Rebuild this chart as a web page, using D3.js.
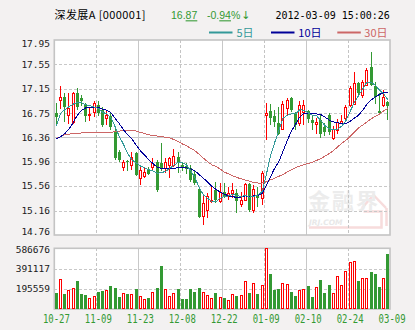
<!DOCTYPE html>
<html><head><meta charset="utf-8">
<script src="https://cdn.jsdelivr.net/npm/d3@7"></script>
<style>
html,body{margin:0;padding:0;background:#f3f1f1;}
svg{display:block;}
</style></head><body>
<svg id="c" width="415" height="330"></svg>
<script>
// ---- data ----
const tickLabels = ['10-27','11-09','11-23','12-08','12-22','01-09','02-10','02-24','03-09'];
const priceTicks = [17.95,17.55,17.15,16.75,16.36,15.96,15.56,15.16,14.76];
const volTicks = [586676,391117,195559];

const opens = [16.76,16.97,17.01,16.72,16.61,17.09,17.00,16.89,16.72,16.78,
16.88,16.81,16.67,16.70,16.45,16.11,15.88,15.97,15.91,16.10,
15.70,15.72,15.82,15.88,15.96,15.93,15.85,15.90,15.90,16.04,
15.90,15.89,15.85,15.76,15.52,15.07,15.17,15.31,15.49,15.31,
15.47,15.39,15.44,15.44,15.27,15.33,15.60,15.17,15.39,15.36,
16.72,16.79,16.71,16.59,16.50,16.83,17.00,16.74,16.59,16.78,
16.79,16.64,16.57,16.64,16.53,16.72,16.35,16.48,16.59,16.67,
16.89,16.91,17.24,17.05,17.21,17.51,17.19,16.79,16.89,16.93];
const highs = [16.92,17.19,17.08,17.09,17.10,17.16,17.05,16.92,16.86,16.95,
16.95,16.86,16.80,16.75,16.50,16.15,15.99,15.99,16.12,16.12,
15.91,15.88,15.88,16.02,15.99,16.26,16.02,16.04,16.16,16.12,
15.96,15.93,15.90,15.82,15.55,15.39,15.44,15.58,15.63,15.61,
15.61,15.55,15.61,15.52,15.47,15.61,15.61,15.58,15.55,15.80,
16.92,16.91,16.80,16.85,16.95,17.00,17.02,16.78,16.95,16.97,
16.81,16.72,16.67,16.72,16.60,16.75,16.55,16.65,16.72,16.89,
17.19,17.43,17.27,17.29,17.49,17.76,17.27,17.08,17.13,16.95];
const lows = [16.56,16.82,16.61,16.57,16.57,16.80,16.87,16.61,16.62,16.69,
16.71,16.53,16.56,16.48,15.99,15.96,15.80,15.80,15.82,15.72,
15.58,15.69,15.74,15.80,15.47,15.80,15.77,15.70,15.88,15.78,
15.81,15.76,15.63,15.57,15.03,14.93,15.03,15.28,15.28,15.28,
15.36,15.33,15.36,15.12,15.22,15.31,15.14,15.12,15.22,15.25,
16.31,16.56,16.53,16.40,16.47,16.72,16.78,16.48,16.54,16.56,
16.59,16.48,16.42,16.34,16.38,16.40,16.31,16.42,16.58,16.62,
16.86,16.89,17.05,17.00,17.19,17.19,16.91,16.75,16.86,16.64];
const closes = [16.69,17.02,16.86,16.83,17.09,16.86,16.96,16.70,16.74,16.92,
16.76,16.56,16.73,16.53,16.02,15.99,15.96,15.95,16.04,15.74,
15.82,15.79,15.76,15.93,15.50,15.85,15.96,16.02,16.05,15.93,
15.86,15.84,15.66,15.61,15.06,15.28,15.39,15.34,15.33,15.47,
15.39,15.44,15.49,15.31,15.33,15.60,15.17,15.52,15.36,15.77,
16.76,16.67,16.61,16.42,16.91,16.97,16.81,16.56,16.89,16.89,
16.65,16.59,16.61,16.42,16.44,16.45,16.50,16.61,16.62,16.86,
17.16,17.24,17.08,17.27,17.46,17.21,17.02,16.76,17.02,16.87];
const volumes = [158000,287000,145000,184000,200000,271000,145000,135000,103000,126000,
161000,174000,184000,222000,203000,116000,152000,145000,145000,193000,
126000,97000,106000,161000,200000,416000,190000,126000,152000,193000,
97000,97000,193000,161000,200000,161000,133000,103000,158000,113000,
103000,84000,142000,126000,132000,268000,155000,248000,145000,229000,
586676,338000,184000,193000,248000,242000,161000,126000,180000,190000,
222000,116000,210000,280000,155000,232000,155000,319000,232000,364000,
455000,461000,271000,297000,297000,358000,338000,210000,297000,532000];
const ma5 = [16.55,16.75,16.81,16.86,16.90,16.93,16.92,16.89,16.88,16.85,
16.83,16.77,16.74,16.68,16.53,16.37,16.24,16.09,15.99,15.94,
15.89,15.86,15.83,15.81,15.77,15.78,15.80,15.85,15.90,15.95,
15.94,15.91,15.81,15.70,15.54,15.42,15.36,15.31,15.30,15.36,
15.39,15.40,15.42,15.41,15.39,15.41,15.38,15.39,15.41,15.47,
15.74,16.05,16.27,16.46,16.67,16.72,16.74,16.74,16.81,16.80,
16.76,16.72,16.71,16.63,16.55,16.50,16.48,16.49,16.54,16.63,
16.78,16.93,17.04,17.15,17.26,17.26,17.21,17.13,17.07,16.97];
const ma10 = [16.33,16.37,16.42,16.49,16.60,16.72,16.80,16.84,16.85,16.85,
16.85,16.82,16.80,16.76,16.67,16.58,16.48,16.40,16.33,16.23,
16.14,16.07,15.99,15.93,15.87,15.85,15.84,15.84,15.85,15.86,
15.87,15.86,15.84,15.81,15.75,15.69,15.63,15.56,15.51,15.46,
15.43,15.40,15.39,15.37,15.38,15.40,15.39,15.40,15.41,15.44,
15.57,15.71,15.85,15.96,16.13,16.30,16.46,16.57,16.69,16.75,
16.75,16.74,16.74,16.73,16.69,16.64,16.61,16.60,16.58,16.58,
16.62,16.67,16.72,16.80,16.90,16.97,17.02,17.06,17.09,17.09];
const ma30 = [16.34,16.37,16.40,16.41,16.42,16.42,16.43,16.43,16.43,16.43,
16.43,16.43,16.43,16.44,16.45,16.46,16.47,16.47,16.47,16.46,
16.44,16.42,16.40,16.39,16.38,16.37,16.36,16.35,16.32,16.29,
16.25,16.22,16.18,16.14,16.08,16.02,15.96,15.91,15.88,15.84,
15.79,15.76,15.73,15.70,15.68,15.66,15.64,15.62,15.61,15.61,
15.63,15.66,15.69,15.72,15.75,15.79,15.83,15.86,15.89,15.91,
15.93,15.95,15.98,16.01,16.05,16.09,16.14,16.20,16.26,16.31,
16.37,16.44,16.51,16.56,16.61,16.66,16.70,16.74,16.79,16.83];

// ---- layout ----
const L = 54.3, R = 390, T = 40, B = 235, VT = 248.3, VB = 309;
const RED = '#ff0000', GREEN = '#339933';
const C5 = '#339999', C10 = '#000099', C30 = '#cc6666';
const n = closes.length;
const svg = d3.select('#c');

const x = d3.scaleLinear().domain([0, n]).range([L, R]);
const y = d3.scaleLinear().domain([priceTicks[priceTicks.length-1], priceTicks[0]]).range([B, T]);
const yv = d3.scaleLinear().domain([0, volTicks[0]]).range([VB, VT]);

// panels
svg.append('rect').attr('x', L).attr('y', T).attr('width', R-L).attr('height', B-T).attr('fill', '#fff');
svg.append('rect').attr('x', L).attr('y', VT).attr('width', R-L).attr('height', VB-VT).attr('fill', '#fff');

// watermark
const wm = svg.append('g');
wm.append('path').attr('d', 'M309,227.5H381.5V211.5H363.5M362,208L373.5,195L386,208M386.5,208V226')
  .attr('fill', 'none').attr('stroke', '#f7dcdc').attr('stroke-width', 2.5);
wm.append('text').attr('x', 308).attr('y', 208.5).attr('font-family', 'Noto Sans CJK SC').attr('font-weight', 'bold')
  .attr('font-size', 22).attr('fill', '#ececec').attr('letter-spacing', 2).text('金融界');
wm.append('text').attr('x', 309).attr('y', 224.5).attr('font-family', 'DejaVu Sans').attr('font-weight', 'bold')
  .attr('font-style', 'italic').attr('font-size', 7.5).attr('fill', '#e8e8e8').text('JRJ.COM');

// grid
const grid = svg.append('g').attr('shape-rendering', 'crispEdges');
for (let k = 1; k < tickLabels.length - 1; k++) {
  const gx = Math.round(x(k * 10)) + 0.5;
  const solid = k % 2 === 0;
  [[T, B], [VT, VB]].forEach(([a, b]) => {
    grid.append('line').attr('x1', gx).attr('x2', gx).attr('y1', a).attr('y2', b)
      .attr('stroke', solid ? '#c8c8c8' : '#c4c4c4').attr('stroke-width', 1)
      .attr('stroke-dasharray', solid ? null : '3,2');
  });
}
priceTicks.slice(1, -1).forEach((t, j) => {
  const gy = Math.round(y(t)) + 0.5;
  const solid = t === 16.36;
  grid.append('line').attr('x1', L).attr('x2', R).attr('y1', gy).attr('y2', gy)
    .attr('stroke', '#c8c8c8').attr('stroke-dasharray', solid ? null : '3,2');
});
volTicks.slice(1).forEach(t => {
  const gy = Math.round(yv(t)) + 0.5;
  grid.append('line').attr('x1', L).attr('x2', R).attr('y1', gy).attr('y2', gy)
    .attr('stroke', '#c8c8c8').attr('stroke-dasharray', '3,2');
});
// borders
[[T, B], [VT, VB]].forEach(([a, b]) => {
  svg.append('rect').attr('x', L).attr('y', a).attr('width', R-L).attr('height', b-a)
    .attr('fill', 'none').attr('stroke', '#c4c4c4').attr('stroke-width', 1.6);
});

// candles
const cg = svg.append('g').attr('shape-rendering', 'crispEdges');
d3.range(n).forEach(i => {
  const px = Math.floor(x(i + 0.5));
  const o = opens[i], c = closes[i], h = highs[i], l = lows[i];
  const up = c >= o;
  const yt = Math.round(y(Math.max(o, c))), yb = Math.round(y(Math.min(o, c)));
  const yh = Math.round(y(h)), yl = Math.round(y(l));
  if (up) {
    const bh = Math.max(yb - yt, 1);
    cg.append('line').attr('x1', px+0.5).attr('x2', px+0.5).attr('y1', yh).attr('y2', yt).attr('stroke', RED);
    cg.append('line').attr('x1', px+0.5).attr('x2', px+0.5).attr('y1', yt+bh).attr('y2', yl).attr('stroke', RED);
    cg.append('rect').attr('x', px-0.5).attr('y', yt+0.5).attr('width', 2).attr('height', bh)
      .attr('fill', '#fff').attr('stroke', RED);
  } else {
    cg.append('line').attr('x1', px+0.5).attr('x2', px+0.5).attr('y1', yh).attr('y2', yl).attr('stroke', GREEN);
    cg.append('rect').attr('x', px-1).attr('y', yt).attr('width', 3).attr('height', Math.max(yb - yt, 1))
      .attr('fill', GREEN);
  }
  // volume
  const vy = Math.round(yv(volumes[i]));
  if (up) {
    cg.append('rect').attr('x', px-0.5).attr('y', vy+0.5).attr('width', 2).attr('height', VB - vy - 1)
      .attr('fill', '#fff').attr('stroke', RED);
  } else {
    cg.append('rect').attr('x', px-1).attr('y', vy).attr('width', 3).attr('height', VB - vy).attr('fill', GREEN);
  }
});

// moving averages
const line = d3.line().x((d, i) => x(i + 0.5)).y(d => y(d));
[[ma30, C30], [ma10, C10], [ma5, C5]].forEach(([arr, col]) => {
  svg.append('path').attr('d', line(arr)).attr('fill', 'none').attr('stroke', col)
    .attr('stroke-width', 1).attr('shape-rendering', 'crispEdges');
});

// axis labels
const ax = svg.append('g').attr('font-family', 'DejaVu Sans Mono').attr('font-size', 9.5).attr('fill', '#1a1a1a')
  .attr('text-anchor', 'end');
priceTicks.forEach((t, j) => {
  let cy = y(t);
  if (j === 0) cy += 3.8;
  if (j === priceTicks.length - 1) cy -= 3.2;
  ax.append('text').attr('x', 50).attr('y', cy + 3.4).text(t.toFixed(2));
});
volTicks.forEach((t, j) => {
  let cy = yv(t);
  if (j === 0) cy += 1.7;
  ax.append('text').attr('x', 50).attr('y', cy + 3.4).text(String(t));
});
tickLabels.forEach((lab, k) => {
  svg.append('text').attr('x', x(k * 10 + 0.5)).attr('y', 322.5).attr('text-anchor', 'middle')
    .attr('font-family', 'DejaVu Sans Mono').attr('font-size', 11.5).attr('fill', GREEN)
    .attr('textLength', 27).attr('lengthAdjust', 'spacingAndGlyphs').text(lab);
});

// header
svg.append('text').attr('x', 54.5).attr('y', 19.3).attr('font-family', 'Noto Sans CJK SC, DejaVu Sans')
  .attr('font-size', 11).attr('fill', '#000').attr('textLength', 91).attr('lengthAdjust', 'spacing')
  .text('深发展A [000001]');
const pt = svg.append('text').attr('x', 171).attr('y', 19.3).attr('font-family', 'Liberation Sans')
  .attr('font-size', 10.5).attr('fill', GREEN);
pt.append('tspan').text('16.');
pt.append('tspan').attr('text-decoration', 'underline').text('87');
const cht = svg.append('text').attr('x', 207).attr('y', 19.3).attr('font-family', 'Liberation Sans')
  .attr('font-size', 10.5).attr('fill', GREEN);
cht.append('tspan').text('-0.');
cht.append('tspan').attr('text-decoration', 'underline').text('94');
cht.append('tspan').text('%');
cht.append('tspan').attr('font-family', 'DejaVu Sans').attr('font-size', 11).attr('dx', 1).text('↓');
svg.append('text').attr('x', 275.5).attr('y', 19.3).attr('font-family', 'DejaVu Sans Mono')
  .attr('font-size', 10).attr('fill', '#000').text('2012-03-09 15:00:26');

// legend
[['5日', C5, 209, 236.5], ['10日', C10, 271, 298.3], ['30日', C30, 337.3, 364.3]].forEach(([t, col, lx, tx]) => {
  svg.append('line').attr('x1', lx).attr('x2', lx + 23.5).attr('y1', 32.5).attr('y2', 32.5)
    .attr('stroke', col).attr('stroke-width', 2);
  svg.append('text').attr('x', tx).attr('y', 36.6).attr('font-family', 'Noto Sans CJK SC, DejaVu Sans')
    .attr('font-size', 11).attr('fill', col).text(t);
});
</script>
</body></html>
